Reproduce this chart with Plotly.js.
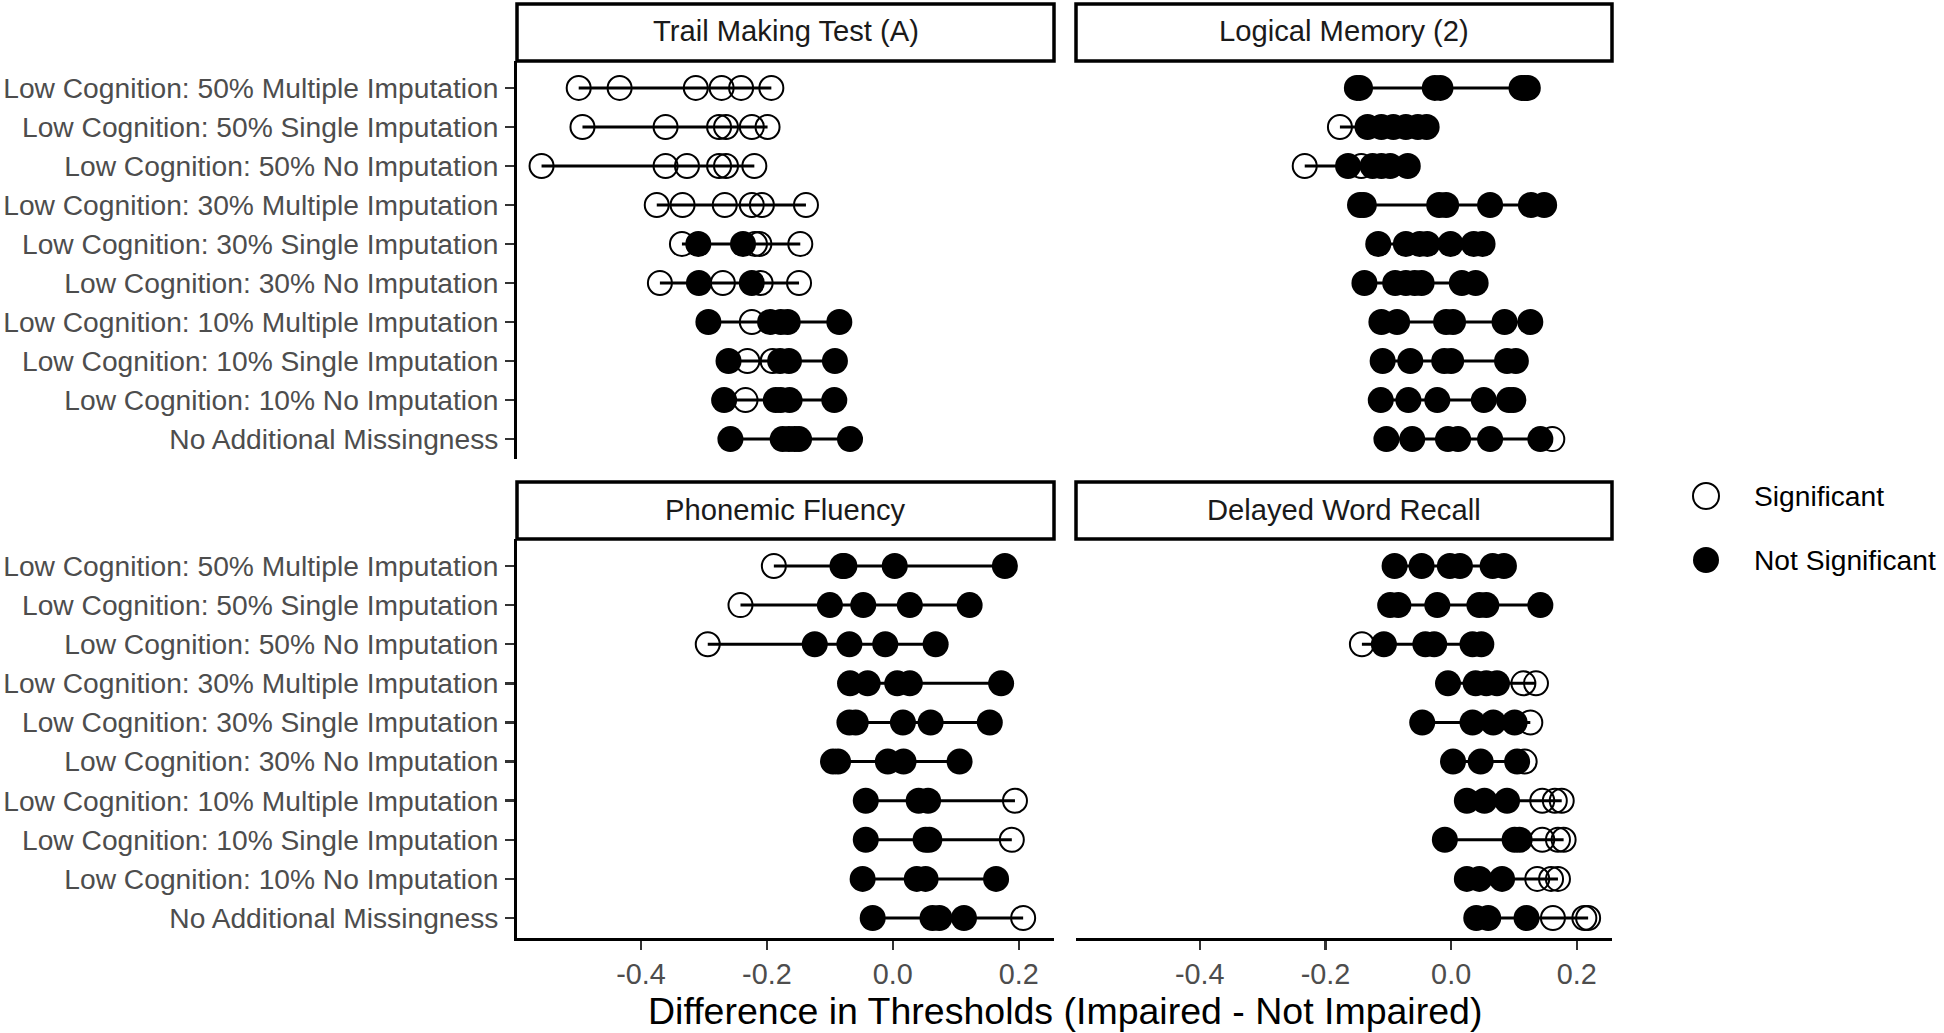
<!DOCTYPE html>
<html>
<head>
<meta charset="utf-8">
<script src="https://cdn.plot.ly/plotly-3.0.1.min.js"></script>
<style>html,body{margin:0;padding:0;background:#fff;}#chart{width:1944px;height:1033px;}</style>
</head>
<body>
<div id="chart"></div>
<script>
// ---------------- DATA ----------------
const rowLabels = [
  "Low Cognition: 50% Multiple Imputation",
  "Low Cognition: 50% Single Imputation",
  "Low Cognition: 50% No Imputation",
  "Low Cognition: 30% Multiple Imputation",
  "Low Cognition: 30% Single Imputation",
  "Low Cognition: 30% No Imputation",
  "Low Cognition: 10% Multiple Imputation",
  "Low Cognition: 10% Single Imputation",
  "Low Cognition: 10% No Imputation",
  "No Additional Missingness"
];

const panelTitles = ["Trail Making Test (A)", "Logical Memory (2)", "Phonemic Fluency", "Delayed Word Recall"];
const legendLabels = ["Significant", "Not Significant"];
const xTickVals = [-0.4, -0.2, 0.0, 0.2];
const xTickText = ["-0.4", "-0.2", "0.0", "0.2"];
const xTitle = "Difference in Thresholds (Impaired - Not Impaired)";

// Trail Making Test (A): significant (open) / not significant (filled), per row
const tmtSig = [
  [-0.499, -0.434, -0.313, -0.272, -0.241, -0.193],
  [-0.493, -0.361, -0.276, -0.265, -0.224, -0.199],
  [-0.558, -0.361, -0.327, -0.276, -0.265, -0.220],
  [-0.375, -0.334, -0.267, -0.224, -0.208, -0.138],
  [-0.335, -0.219, -0.212, -0.147],
  [-0.370, -0.270, -0.210, -0.149],
  [-0.224],
  [-0.231, -0.191],
  [-0.234],
  []
];
const tmtNot = [
  [],
  [],
  [],
  [],
  [-0.309, -0.238],
  [-0.308, -0.224],
  [-0.293, -0.195, -0.178, -0.167, -0.085],
  [-0.261, -0.179, -0.165, -0.092],
  [-0.268, -0.186, -0.178, -0.164, -0.093],
  [-0.258, -0.175, -0.165, -0.156, -0.149, -0.068]
];

// Logical Memory (2)
const lmSig = [
  [],
  [-0.177],
  [-0.233, -0.143],
  [],
  [],
  [],
  [],
  [],
  [],
  [0.161]
];
const lmNot = [
  [-0.150, -0.145, -0.026, -0.017, 0.112, 0.117, 0.122],
  [-0.133, -0.111, -0.092, -0.072, -0.053, -0.039],
  [-0.164, -0.125, -0.111, -0.097, -0.069],
  [-0.145, -0.139, -0.019, -0.008, 0.062, 0.127, 0.148],
  [-0.116, -0.072, -0.050, -0.038, -0.001, 0.036, 0.050],
  [-0.138, -0.089, -0.072, -0.058, -0.047, 0.017, 0.039],
  [-0.111, -0.086, -0.008, 0.003, 0.085, 0.126],
  [-0.109, -0.065, -0.011, 0.000, 0.089, 0.103],
  [-0.112, -0.068, -0.022, 0.052, 0.092, 0.099],
  [-0.103, -0.062, -0.005, 0.011, 0.062, 0.142]
];

// Phonemic Fluency
const pfSig = [
  [-0.189],
  [-0.242],
  [-0.294],
  [],
  [],
  [],
  [0.194],
  [0.189],
  [],
  [0.207]
];
const pfNot = [
  [-0.080, -0.077, 0.003, 0.178],
  [-0.100, -0.047, 0.027, 0.122],
  [-0.124, -0.069, -0.012, 0.068],
  [-0.068, -0.040, 0.007, 0.027, 0.172],
  [-0.069, -0.059, 0.016, 0.060, 0.154],
  [-0.095, -0.087, -0.008, 0.017, 0.106],
  [-0.043, 0.041, 0.056],
  [-0.043, 0.052, 0.058],
  [-0.048, 0.038, 0.052, 0.164],
  [-0.032, 0.063, 0.074, 0.113]
];

// Delayed Word Recall
const dwrSig = [
  [],
  [],
  [-0.142],
  [0.115, 0.135],
  [0.126],
  [0.117],
  [0.145, 0.165, 0.176],
  [0.145, 0.170, 0.179],
  [0.137, 0.159, 0.170],
  [0.162, 0.212, 0.218]
];
const dwrNot = [
  [-0.090, -0.047, -0.002, 0.014, 0.066, 0.084],
  [-0.097, -0.084, -0.022, 0.045, 0.056, 0.142],
  [-0.107, -0.041, -0.027, 0.034, 0.048],
  [-0.005, 0.039, 0.056, 0.073],
  [-0.046, 0.034, 0.067, 0.101],
  [0.003, 0.047, 0.105],
  [0.025, 0.053, 0.089],
  [-0.010, 0.101, 0.109],
  [0.025, 0.045, 0.081],
  [0.040, 0.059, 0.120]
];

// ---------------- LAYOUT / STYLE ----------------
const W = 1944, H = 1033;
const FONT = "Liberation Sans, Arial, sans-serif";
const px = v => v / W;
const py = v => 1 - v / H;

const colL = [517, 1054], colR = [1076, 1612];
const rowT = [61, 459], rowB = [539, 938];
const stripT = [4, 61], stripB = [482, 539];
const xRange = [-0.597, 0.256];
const yRange = [9.51, -0.69];

function panelTraces(sig, not, xa, ya) {
  const lx = [], ly = [], ox = [], oy = [], fx = [], fy = [];
  rowLabels.forEach((lab, i) => {
    const all = sig[i].concat(not[i]);
    if (all.length) {
      lx.push(Math.min(...all), Math.max(...all), null);
      ly.push(lab, lab, null);
    }
    sig[i].forEach(v => { ox.push(v); oy.push(lab); });
    not[i].forEach(v => { fx.push(v); fy.push(lab); });
  });
  return [
    {type: "scatter", mode: "lines", x: lx, y: ly, xaxis: xa, yaxis: ya,
     line: {color: "#000", width: 3}, hoverinfo: "skip", showlegend: false},
    {type: "scatter", mode: "markers", x: ox, y: oy, xaxis: xa, yaxis: ya, name: legendLabels[0],
     marker: {symbol: "circle-open", size: 24, color: "#000", line: {width: 2, color: "#000"}}, showlegend: false},
    {type: "scatter", mode: "markers", x: fx, y: fy, xaxis: xa, yaxis: ya, name: legendLabels[1],
     marker: {symbol: "circle", size: 26, color: "#000", line: {width: 0}}, showlegend: false}
  ];
}

const traces = [].concat(
  panelTraces(tmtSig, tmtNot, "x", "y"),
  panelTraces(lmSig, lmNot, "x2", "y2"),
  panelTraces(pfSig, pfNot, "x3", "y3"),
  panelTraces(dwrSig, dwrNot, "x4", "y4")
);

function xAxis(domain, anchor, showAxis) {
  return {
    domain: domain, anchor: anchor, range: xRange, autorange: false,
    showgrid: false, zeroline: false, fixedrange: true,
    showline: showAxis, linecolor: "#000", linewidth: 3,
    ticks: showAxis ? "outside" : "", ticklen: 9, tickwidth: 2.5, tickcolor: "#333",
    tickvals: xTickVals, ticktext: xTickText, showticklabels: showAxis,
    tickfont: {family: FONT, size: 28.8, color: "#4D4D4D"}, ticklabelstandoff: -1
  };
}
function yAxis(domain, anchor, showAxis) {
  return {
    domain: domain, anchor: anchor, type: "category",
    categoryorder: "array", categoryarray: rowLabels,
    range: yRange, autorange: false,
    showgrid: false, zeroline: false, fixedrange: true,
    showline: showAxis, linecolor: "#000", linewidth: 3,
    ticks: showAxis ? "outside" : "", ticklen: 9, tickwidth: 2.5, tickcolor: "#333",
    showticklabels: showAxis,
    tickfont: {family: FONT, size: 28.2, color: "#4D4D4D"}, ticklabelstandoff: 1
  };
}

const dxL = [px(colL[0]), px(colL[1])], dxR = [px(colR[0]), px(colR[1])];
const dyT = [py(rowT[1]), py(rowT[0])], dyB = [py(rowB[1]), py(rowB[0])];

const strips = [
  {x: colL, y: stripT}, {x: colR, y: stripT},
  {x: colL, y: stripB}, {x: colR, y: stripB}
];

const shapes = strips.map(s => ({
  type: "rect", xref: "paper", yref: "paper",
  x0: px(s.x[0]), x1: px(s.x[1]), y0: py(s.y[1]), y1: py(s.y[0]),
  line: {color: "#000", width: 3.5}, fillcolor: "#fff", layer: "above"
}));

const annotations = strips.map((s, i) => ({
  xref: "paper", yref: "paper",
  x: px((s.x[0] + s.x[1]) / 2), y: py((s.y[0] + s.y[1]) / 2 - 1),
  text: panelTitles[i], showarrow: false, xanchor: "center", yanchor: "middle",
  font: {family: FONT, size: 29.2, color: "#1A1A1A"}
}));

annotations.push({
  xref: "paper", yref: "paper", x: px((colL[0] + colR[1]) / 2), y: py(1011),
  text: xTitle, showarrow: false, xanchor: "center", yanchor: "middle",
  font: {family: FONT, size: 37.5, color: "#000"}
});

// legend (drawn manually to keep big symbols)
const legCx = 1706, legY = [496, 560], legR = 13;
shapes.push({type: "circle", xref: "paper", yref: "paper",
  x0: px(legCx - legR), x1: px(legCx + legR), y0: py(legY[0] + legR), y1: py(legY[0] - legR),
  line: {color: "#000", width: 2}, fillcolor: "rgba(0,0,0,0)"});
shapes.push({type: "circle", xref: "paper", yref: "paper",
  x0: px(legCx - legR), x1: px(legCx + legR), y0: py(legY[1] + legR), y1: py(legY[1] - legR),
  line: {color: "#000", width: 0}, fillcolor: "#000"});
legendLabels.forEach((t, i) => annotations.push({
  xref: "paper", yref: "paper", x: px(1752), y: py(legY[i]),
  text: t, showarrow: false, xanchor: "left", yanchor: "middle",
  font: {family: FONT, size: 28.2, color: "#000"}
}));

const layout = {
  width: W, height: H,
  margin: {l: 0, r: 0, t: 0, b: 0, pad: 0},
  paper_bgcolor: "#fff", plot_bgcolor: "#fff",
  showlegend: false,
  font: {family: FONT},
  xaxis: xAxis(dxL, "y", false),
  yaxis: yAxis(dyT, "x", true),
  xaxis2: xAxis(dxR, "y2", false),
  yaxis2: yAxis(dyT, "x2", false),
  xaxis3: xAxis(dxL, "y3", true),
  yaxis3: yAxis(dyB, "x3", true),
  xaxis4: xAxis(dxR, "y4", true),
  yaxis4: yAxis(dyB, "x4", false),
  shapes: shapes,
  annotations: annotations
};

Plotly.newPlot("chart", traces, layout, {staticPlot: true, displayModeBar: false});
</script>
</body>
</html>
